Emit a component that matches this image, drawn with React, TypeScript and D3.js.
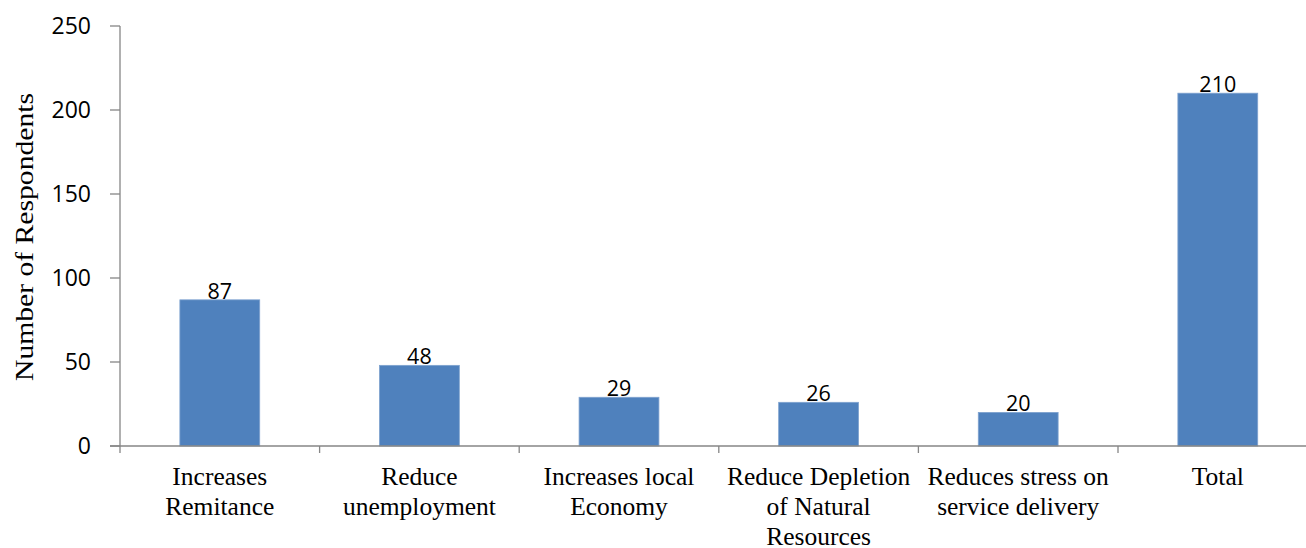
import React from "react";
import * as d3 from "d3";

const categories: string[] = [
  "Increases Remitance",
  "Reduce unemployment",
  "Increases local Economy",
  "Reduce Depletion of Natural Resources",
  "Reduces stress on service delivery",
  "Total",
];
const categoryLines: string[][] = [
  ["Increases", "Remitance"],
  ["Reduce", "unemployment"],
  ["Increases local", "Economy"],
  ["Reduce Depletion", "of Natural", "Resources"],
  ["Reduces stress on", "service delivery"],
  ["Total"],
];
const values: number[] = [87, 48, 29, 26, 20, 210];
const yTicks: number[] = [0, 50, 100, 150, 200, 250];
const yTitle = "Number of Respondents";

export default function App() {
  const W = 1306;
  const H = 548;
  const x0 = 120;
  const x1 = 1317.6;
  const yBase = 446;
  const yTop = 26;

  const x = d3.scaleBand<string>().domain(categories).range([x0, x1]).paddingInner(0.6).paddingOuter(0.3);
  const y = d3.scaleLinear().domain([0, 250]).range([yBase, yTop]);
  const step = x.step();
  const bw = x.bandwidth();
  const boundaries = d3.range(categories.length + 1).map((i) => x0 + i * step);

  const axisColor = "#868686";
  const sans = "'Open Sans', 'Noto Sans', sans-serif";
  const serif = "'Liberation Serif', 'DejaVu Serif', serif";

  return (
    <svg width={W} height={H} style={{ position: "absolute", left: 0, top: 0, background: "#fff" }}>
      <rect x={0} y={0} width={W} height={H} fill="#fff" />
      {/* bars */}
      {categories.map((c, i) => (
        <rect
          key={c}
          x={x(c)}
          y={y(values[i])}
          width={bw}
          height={yBase - y(values[i])}
          fill="#4F81BD"
          stroke="#7EA2CF"
          strokeWidth={0.8}
        />
      ))}
      {/* y axis */}
      <line x1={x0} x2={x0} y1={yTop} y2={yBase} stroke={axisColor} strokeWidth={1.3} />
      {yTicks.map((t) => (
        <g key={t}>
          <line x1={x0 - 10} x2={x0} y1={y(t)} y2={y(t)} stroke={axisColor} strokeWidth={1.3} />
          <text x={91} y={y(t)} dy="0.35em" textAnchor="end" fontFamily={sans} fontSize={23} fill="#000">
            {t}
          </text>
        </g>
      ))}
      {/* x axis */}
      <line x1={x0 - 10} x2={W} y1={yBase} y2={yBase} stroke={axisColor} strokeWidth={1.3} />
      {boundaries.map((b, i) => (
        <line key={i} x1={b} x2={b} y1={yBase} y2={yBase + 7} stroke={axisColor} strokeWidth={1.3} />
      ))}
      {/* value labels */}
      {categories.map((c, i) => (
        <text
          key={c + "v"}
          x={(x(c) as number) + bw / 2}
          y={y(values[i]) - 1}
          textAnchor="middle"
          fontFamily={sans}
          fontSize={21.5}
          fill="#000"
        >
          {values[i]}
        </text>
      ))}
      {/* category labels */}
      {categories.map((c, i) => (
        <text
          key={c + "l"}
          x={(x(c) as number) + bw / 2}
          y={485}
          textAnchor="middle"
          fontFamily={serif}
          fontSize={25.5}
          fill="#000"
        >
          {categoryLines[i].map((ln, j) => (
            <tspan key={j} x={(x(c) as number) + bw / 2} dy={j === 0 ? 0 : 30}>
              {ln}
            </tspan>
          ))}
        </text>
      ))}
      {/* y title */}
      <text
        transform={`translate(33, 237) rotate(-90)`}
        textAnchor="middle"
        fontFamily={serif}
        fontSize={26}
        textLength={288}
        lengthAdjust="spacingAndGlyphs"
        fill="#000"
      >
        {yTitle}
      </text>
    </svg>
  );
}
